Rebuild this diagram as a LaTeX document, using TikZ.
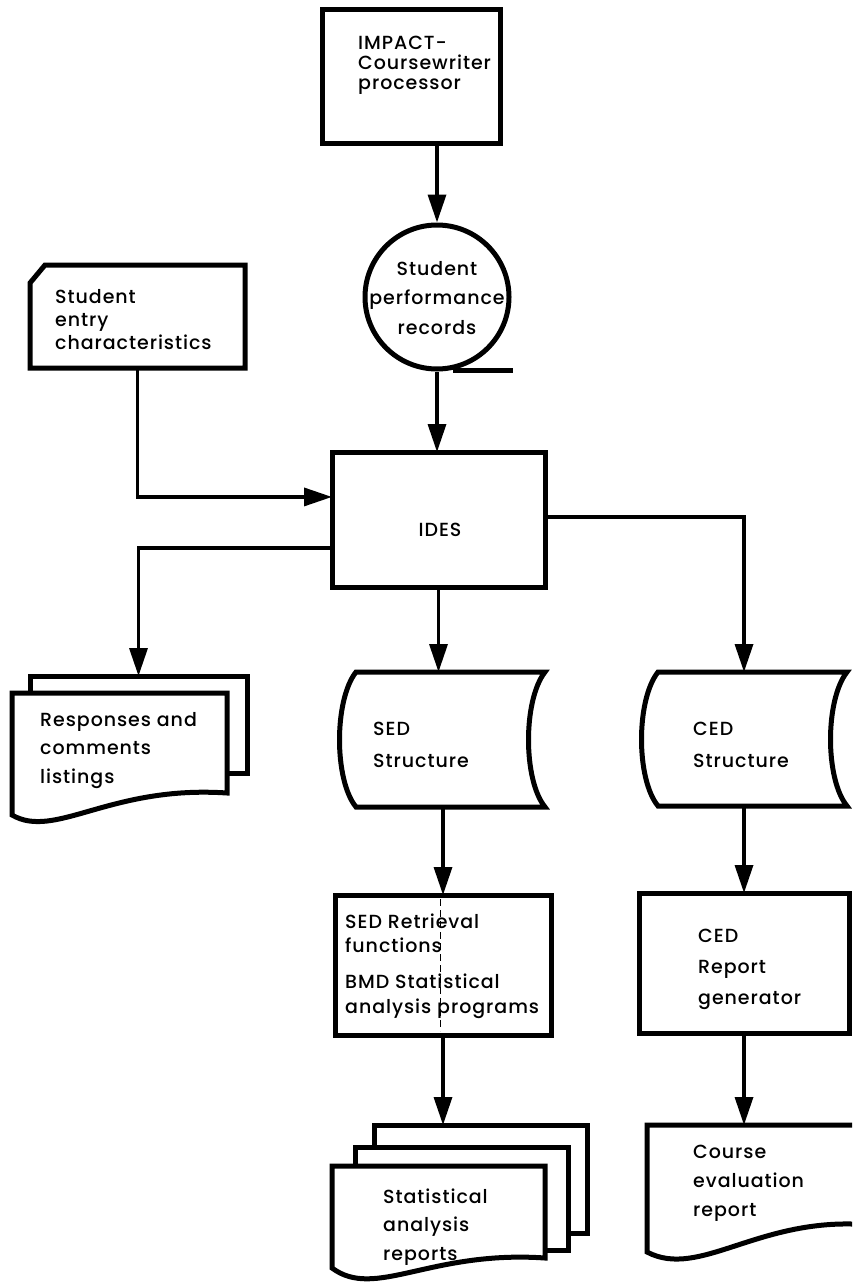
\documentclass[tikz,border=0pt]{standalone}
\usepackage{fontspec}
\setmainfont{Poppins}[UprightFont={* Medium},LetterSpace=5]
\usetikzlibrary{arrows.meta,calc}

\begin{document}
\begin{tikzpicture}[x=1pt,y=-1pt,
  outline/.style={draw=black,line width=5pt,line join=miter,fill=white},
  frame/.style={draw=none,inner sep=0pt,outer sep=0pt},
  boxnode/.style={outline,rectangle,inner sep=0pt,outer sep=0pt},
  link/.style={line width=3.4pt,-{Triangle[length=28pt,width=18pt]}},
  lbl/.style={font=\fontsize{19}{23}\selectfont,align=left,inner sep=0pt,anchor=base west},
]
\useasboundingbox (0,0) rectangle (852,1287);
\clip (0,0) rectangle (852,1287);

% ---------- processor and tape ----------
\node[boxnode,minimum width=178pt,minimum height=133pt] (impact) at (411,76.5) {};
\node[lbl,font=\fontsize{19}{20}\selectfont] (impact-t) at (358,90) {IMPACT-\\Coursewriter\\processor};

\node[outline,circle,minimum size=144pt,inner sep=0pt] (rec) at (437,297) {};
\draw[line width=5pt] ($(rec.south)+(16,-1)$) -- ++(60,0);
\node[font=\fontsize{19}{29.5}\selectfont,align=center,inner sep=0pt,anchor=base] (rec-t) at (437,334) {Student\\performance\\records};

% ---------- punched card ----------
\node[frame,minimum width=215pt,minimum height=103pt] (card) at (137.5,316.5) {};
\draw[outline] ($(card.north west)+(0,18)$) -- ($(card.north west)+(15,0)$) -- (card.north east)
  -- (card.south east) -- (card.south west) -- cycle;
\node[lbl] (card-t) at (55,349) {Student\\entry\\characteristics};

% ---------- IDES ----------
\node[boxnode,minimum width=213pt,minimum height=135pt] (ides) at (438.5,519.5) {};
\node[font=\fontsize{19}{23}\selectfont,inner sep=0pt,anchor=base] (ides-t) at (440,536) {IDES};

% ---------- listings (two pages) ----------
\node[boxnode,minimum width=217pt,minimum height=97pt] (respback) at (138.5,724.5) {};
\node[frame,minimum width=215pt,minimum height=100pt] (resp) at (119.5,743) {};
\draw[outline] (resp.north west) -- (resp.north east) -- (resp.south east)
  .. controls (110,785) and (55,840) .. (12,815) -- cycle;
\node[lbl,font=\fontsize{19}{28.5}\selectfont] (resp-t) at (40,783) {Responses and\\comments\\listings};

% ---------- storage structures ----------
\node[frame,minimum width=189pt,minimum height=135pt] (sed) at (450.5,739.5) {};
\draw[outline] (sed.north west) -- (sed.north east)
  .. controls ($(sed.north east)+(-22,28)$) and ($(sed.south east)+(-22,-27)$) .. (sed.south east)
  -- (sed.south west)
  .. controls ($(sed.south west)+(-22,-27)$) and ($(sed.north west)+(-22,28)$) .. (sed.north west) -- cycle;
\node[lbl,font=\fontsize{19}{32}\selectfont] (sed-t) at (373,767) {SED\\Structure};

\node[frame,minimum width=189pt,minimum height=134pt] (ced) at (752.5,739) {};
\draw[outline] (ced.north west) -- (ced.north east)
  .. controls ($(ced.north east)+(-22,28)$) and ($(ced.south east)+(-22,-27)$) .. (ced.south east)
  -- (ced.south west)
  .. controls ($(ced.south west)+(-22,-27)$) and ($(ced.north west)+(-22,28)$) .. (ced.north west) -- cycle;
\node[lbl,font=\fontsize{19}{32}\selectfont] (ced-t) at (693,767) {CED\\Structure};

% ---------- programs ----------
\node[boxnode,minimum width=216pt,minimum height=140pt] (retr) at (443,965) {};
\node[lbl,font=\fontsize{19}{24}\selectfont] (retr-t1) at (345,952) {SED Retrieval\\functions};
\node[lbl,font=\fontsize{19}{25}\selectfont] (retr-t2) at (345,1013) {BMD Statistical\\analysis programs};

\node[boxnode,minimum width=210pt,minimum height=140pt] (report) at (744,963) {};
\node[lbl,font=\fontsize{19}{31}\selectfont] (report-t) at (698,1004) {CED\\Report\\generator};

% ---------- output documents ----------
\node[boxnode,minimum width=213pt,minimum height=108pt] (statsback) at (480.5,1179) {};
\node[boxnode,minimum width=213pt,minimum height=103pt] (statsmid) at (461.5,1198.5) {};
\node[frame,minimum width=213pt,minimum height=92pt] (stats) at (438.5,1212) {};
\draw[outline] (stats.north west) -- (stats.north east) -- (stats.south east)
  .. controls (430,1250) and (375,1300) .. (332,1268) -- cycle;
\node[lbl,font=\fontsize{19}{28.5}\selectfont] (stats-t) at (383,1260) {Statistical\\analysis\\reports};

\node[frame,minimum width=223pt,minimum height=100pt] (course) at (758.5,1175) {};
\draw[outline] (course.north west) -- (course.north east) -- (course.south east)
  .. controls (760,1215) and (700,1280) .. (647,1252) -- cycle;
\node[lbl,font=\fontsize{19}{29}\selectfont] (course-t) at (693,1216) {Course\\evaluation\\report};

% ---------- flow ----------
\draw[link] (rec.north |- impact.south) -- (rec.north);
\draw[link] (rec.south) -- (rec.south |- ides.north);
\draw[link] (card.south) |- ($(ides.north west)!0.333!(ides.south west)$);
\draw[link] ($(ides.north west)!0.711!(ides.south west)$) -| (respback.north);
\draw[link] (ides.south) -- (ides.south |- sed.north);
\draw[link] ($(ides.north east)!0.48!(ides.south east)$) -| (ced.north -| report.north);
\draw[link] (retr.north |- sed.south) -- (retr.north);
\draw[link] (report.north |- ced.south) -- (report.north);
\draw[link] (retr.south) -- (retr.south |- statsback.north);
\draw[link] (report.south) -- (report.south |- course.north);
\draw[line width=1pt,dash pattern=on 7pt off 4pt] ($(retr.north)+(-3,4)$) -- ($(retr.south)+(-3,-4)$);
\end{tikzpicture}
\end{document}
